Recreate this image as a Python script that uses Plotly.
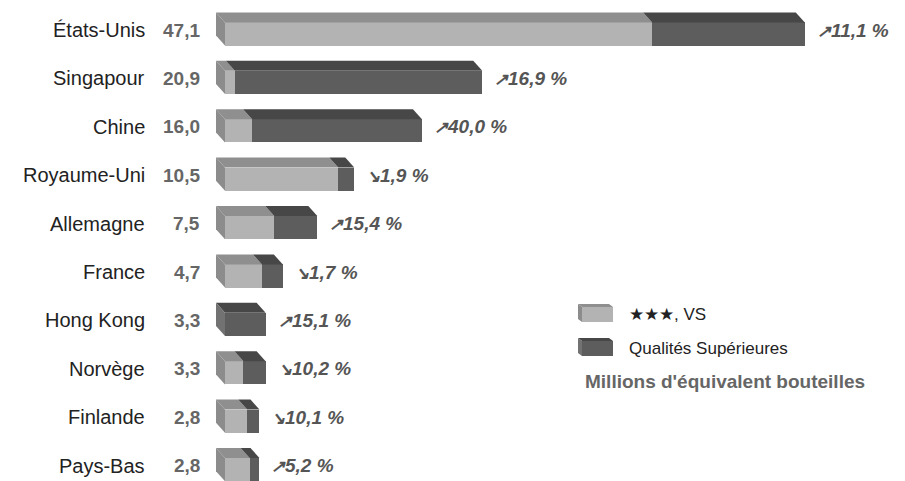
import plotly.graph_objects as go

# ---- data ----
countries = ["États-Unis", "Singapour", "Chine", "Royaume-Uni", "Allemagne",
             "France", "Hong Kong", "Norvège", "Finlande", "Pays-Bas"]
totals = [47.1, 20.9, 16.0, 10.5, 7.5, 4.7, 3.3, 3.3, 2.8, 2.8]
vs_values = [34.7, 0.8, 2.2, 9.2, 4.0, 3.0, 0.0, 1.5, 1.8, 2.0]
sup_values = [12.4, 20.1, 13.8, 1.3, 3.5, 1.7, 3.3, 1.8, 1.0, 0.8]
growth = [11.1, 16.9, 40.0, -1.9, 15.4, -1.7, 15.1, -10.2, -10.1, 5.2]
series_names = ["★★★, VS", "Qualités Supérieures"]
unit_label = "Millions d'équivalent bouteilles"

# ---- styling / geometry ----
W, H = 905, 481
PX_PER_UNIT = 12.31
ROW_PX = 48.4
X0_PX = 225.0
ROW0_PX = 34.0
FRONT_H = 0.48           # bar thickness in row units
DEPTH_X = 9.0 / PX_PER_UNIT
DEPTH_Y = 10.0 / ROW_PX

LIGHT = dict(front="#b3b3b3", top="#8f8f8f", side="#8c8c8c")
DARK = dict(front="#5d5d5d", top="#474747", side="#727272")

pos = list(range(len(countries)))
x_range = [-X0_PX / PX_PER_UNIT, (W - X0_PX) / PX_PER_UNIT]
y_range = [(H - ROW0_PX) / ROW_PX, -ROW0_PX / ROW_PX]

fig = go.Figure()
fig.add_trace(go.Bar(y=pos, x=vs_values, orientation="h", width=FRONT_H,
                     marker=dict(color=LIGHT["front"], line=dict(width=0)),
                     name=series_names[0], showlegend=False, hoverinfo="skip"))
fig.add_trace(go.Bar(y=pos, x=sup_values, base=vs_values, orientation="h", width=FRONT_H,
                     marker=dict(color=DARK["front"], line=dict(width=0)),
                     name=series_names[1], showlegend=False, hoverinfo="skip"))

shapes = []
def poly(pts, color, xref="x", yref="y"):
    d = "M " + " L ".join(f"{px},{py}" for px, py in pts) + " Z"
    shapes.append(dict(type="path", path=d, xref=xref, yref=yref,
                       fillcolor=color, line=dict(width=0), layer="above"))

for k in pos:
    top = k - FRONT_H / 2
    bot = k + FRONT_H / 2
    segs = [(0.0, vs_values[k], LIGHT), (vs_values[k], vs_values[k] + sup_values[k], DARK)]
    for a, b, col in segs:
        if b - a <= 0:
            continue
        poly([(a, top), (b, top), (b - DEPTH_X, top - DEPTH_Y), (a - DEPTH_X, top - DEPTH_Y)], col["top"])
    first = LIGHT if vs_values[k] > 0 else DARK
    poly([(0, top), (0, bot), (-DEPTH_X, bot - DEPTH_Y), (-DEPTH_X, top - DEPTH_Y)], first["side"])

# legend boxes (paper coords)
def px2paper(x, y):
    return (x / W, 1 - y / H)

def legend_box(y_front_top, col):
    x1, x2 = 582, 613
    y1, y2 = y_front_top, y_front_top + 15
    dx, dy = 4, 3
    poly([px2paper(x1, y1), px2paper(x2, y1), px2paper(x2 - dx, y1 - dy), px2paper(x1 - dx, y1 - dy)],
         col["top"], "paper", "paper")
    poly([px2paper(x1, y1), px2paper(x1, y2), px2paper(x1 - dx, y2 - dy), px2paper(x1 - dx, y1 - dy)],
         col["side"], "paper", "paper")
    poly([px2paper(x1, y1), px2paper(x2, y1), px2paper(x2, y2), px2paper(x1, y2)],
         col["front"], "paper", "paper")

legend_box(307, LIGHT)
legend_box(341, DARK)

annotations = []
FONT = "Liberation Sans, Arial, Helvetica, sans-serif"
for k in pos:
    annotations.append(dict(x=147 / W, xref="paper", y=k, yref="y", yshift=4,
                            text=countries[k], showarrow=False, xanchor="right",
                            font=dict(family=FONT, size=20, color="#222222")))
    annotations.append(dict(x=202 / W, xref="paper", y=k, yref="y", yshift=4,
                            text=f"<b>{totals[k]:.1f}</b>".replace(".", ","), showarrow=False,
                            xanchor="right", font=dict(family=FONT, size=19, color="#666666")))
    arrow = "↗" if growth[k] >= 0 else "↘"
    gtxt = f"{abs(growth[k]):.1f} %".replace(".", ",")
    annotations.append(dict(x=totals[k], xref="x", y=k, yref="y", yshift=4, xshift=10,
                            text=f"<b><i><span style='font-size:17px'>{arrow}</span>{gtxt}</i></b>",
                            showarrow=False, xanchor="left",
                            font=dict(family=FONT, size=19, color="#555555")))

annotations.append(dict(x=627 / W, xref="paper", y=1 - 314 / H, yref="paper", text=series_names[0],
                        showarrow=False, xanchor="left", yanchor="middle",
                        font=dict(family=FONT, size=17, color="#222222")))
annotations.append(dict(x=627 / W, xref="paper", y=1 - 348 / H, yref="paper", text=series_names[1],
                        showarrow=False, xanchor="left", yanchor="middle",
                        font=dict(family=FONT, size=17, color="#222222")))
annotations.append(dict(x=583 / W, xref="paper", y=1 - 381 / H, yref="paper", text=f"<b>{unit_label}</b>",
                        showarrow=False, xanchor="left", yanchor="middle",
                        font=dict(family=FONT, size=19, color="#666666")))

fig.update_layout(
    width=W, height=H, margin=dict(l=0, r=0, t=0, b=0),
    paper_bgcolor="white", plot_bgcolor="white",
    barmode="overlay", bargap=0, showlegend=False,
    xaxis=dict(range=x_range, visible=False, fixedrange=True),
    yaxis=dict(range=y_range, visible=False, fixedrange=True),
    shapes=shapes, annotations=annotations,
)

fig.write_html("out.html", config={"displayModeBar": False},
               post_script="document.body.style.margin='0';")
